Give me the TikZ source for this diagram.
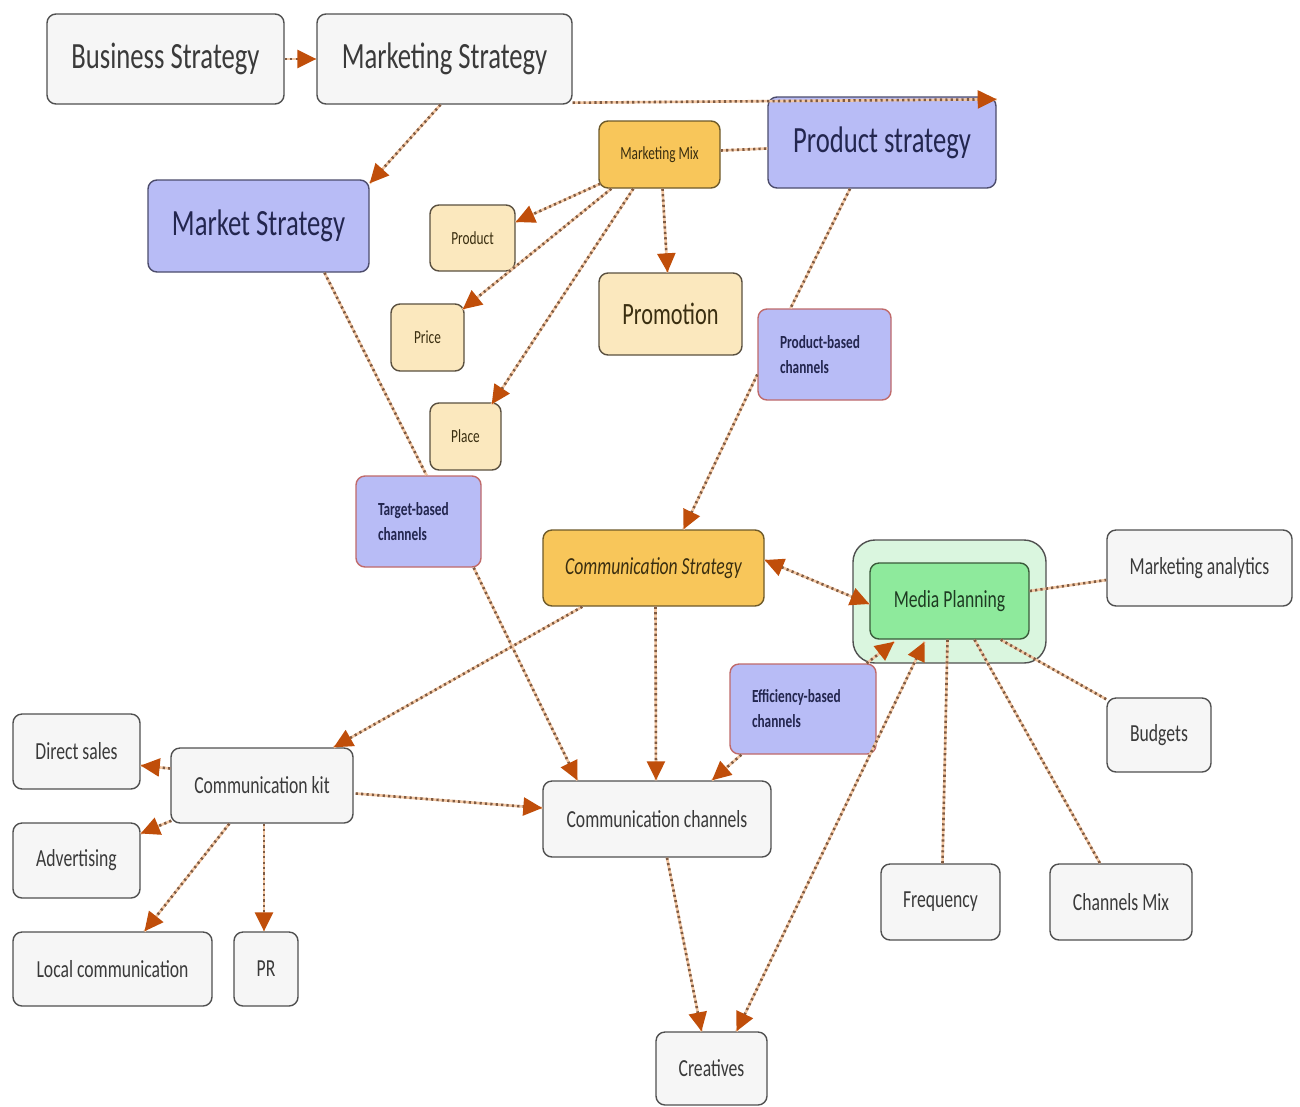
\documentclass[tikz,border=0pt]{standalone}
\usepackage{fontspec}
\setmainfont[FakeStretch=0.72]{Carlito}
\usetikzlibrary{arrows.meta,calc}

\definecolor{grayfill}{HTML}{F6F6F6}
\definecolor{grayline}{HTML}{505050}
\definecolor{graytext}{HTML}{3A3A3A}
\definecolor{lavfill}{HTML}{B8BCF6}
\definecolor{lavline}{HTML}{4C4C6C}
\definecolor{lavtext}{HTML}{23264F}
\definecolor{chanline}{HTML}{C06A6A}
\definecolor{orfill}{HTML}{F8C65A}
\definecolor{orline}{HTML}{6E5A2A}
\definecolor{ortext}{HTML}{3A2E10}
\definecolor{tanfill}{HTML}{FBE8BE}
\definecolor{tanline}{HTML}{5A5040}
\definecolor{grnfill}{HTML}{8EEA9C}
\definecolor{grnline}{HTML}{3A5A3A}
\definecolor{grntext}{HTML}{1E3A22}
\definecolor{grnouter}{HTML}{DAF6DF}
\definecolor{linkc}{HTML}{7E5A42}
\definecolor{haloc}{HTML}{F4C8A4}
\definecolor{tipc}{HTML}{C04E0A}

\newcommand{\px}[1]{\fontsize{#1}{#1}\selectfont}

\tikzset{
  box/.style={draw=grayline, line width=1.4pt, rounded corners=9pt, fill=grayfill,
    text=graytext, inner sep=0pt, align=center, font=\px{24.5}},
  lav/.style={box, fill=lavfill, draw=lavline, text=lavtext, font=\px{37}},
  chan/.style={box, fill=lavfill, draw=chanline, text=lavtext, align=left,
    font=\bfseries\fontsize{18.5}{25}\selectfont},
  orbox/.style={box, fill=orfill, draw=orline, text=ortext},
  tan/.style={box, fill=tanfill, draw=tanline, text=ortext, font=\px{18.5}},
  grn/.style={box, fill=grnfill, draw=grnline, text=grntext},
  sz/.style 2 args={minimum width=#1pt, minimum height=#2pt},
  link/.style={draw=linkc, line width=2.6pt, dash pattern=on 2.2pt off 3.2pt,
    preaction={draw=haloc, line width=2.6pt, solid, -}},
  tip/.style={link, -{Triangle[length=19pt,width=18pt,color=tipc]}},
  tips/.style={link, {Triangle[length=19pt,width=18pt,color=tipc]}-{Triangle[length=19pt,width=18pt,color=tipc]}}
}

\begin{document}
\begin{tikzpicture}[x=1pt,y=-1pt]
\useasboundingbox[fill=white] (0,0) rectangle (1300,1106);

% strategy layer
\node[box, sz={237}{90}, font=\px{37}] (bs) at (165.5,59) {Business Strategy};
\node[box, sz={255}{90}, font=\px{37}] (mks) at (444.5,59) {Marketing Strategy};
\node[lav, sz={221}{92}] (mkt) at (258.5,226) {Market Strategy};
\node[lav, sz={228}{91}] (ps) at (882,142.5) {Product strategy};

% marketing mix
\node[orbox, sz={121}{67}, font=\px{18.5}] (mm) at (659.5,154.5) {Marketing Mix};
\node[tan, sz={85}{66}] (prod) at (472.5,238) {Product};
\node[tan, sz={73}{67}] (price) at (427.5,337.5) {Price};
\node[tan, sz={71}{67}] (place) at (465.5,436.5) {Place};
\node[tan, sz={143}{82}, font=\px{31}] (prom) at (670.5,314) {Promotion};

% channel groups
\node[chan, sz={133}{91}, text width=89pt] (pbc) at (824.5,354.5) {Product-based\\channels};
\node[chan, sz={125}{91}, text width=81pt] (tbc) at (418.5,521.5) {Target-based\\channels};
\node[chan, sz={146}{90}, text width=102pt] (ebc) at (803,709) {Efficiency-based\\channels};

% communication
\node[orbox, sz={221}{76}, font=\itshape\px{24.5}] (cs) at (653.5,568) {Communication Strategy};
\node[box, sz={193}{123}, fill=grnouter, rounded corners=22pt] (mpo) at (949.5,601.5) {};
\node[grn, sz={159}{76}] (mp) at (949.5,601) {Media Planning};
\node[box, sz={185}{76}] (ma) at (1199.5,568) {Marketing analytics};
\node[box, sz={104}{74}] (bud) at (1159,735) {Budgets};
\node[box, sz={127}{75}] (ds) at (76.5,751.5) {Direct sales};
\node[box, sz={182}{75}] (ck) at (262,785.5) {Communication kit};
\node[box, sz={127}{75}] (adv) at (76.5,860.5) {Advertising};
\node[box, sz={199}{74}] (lc) at (112.5,969) {Local communication};
\node[box, sz={64}{74}] (pr) at (266,969) {PR};
\node[box, sz={228}{76}] (cc) at (657,819) {Communication channels};
\node[box, sz={119}{76}] (freq) at (940.5,902) {Frequency};
\node[box, sz={142}{76}] (cmx) at (1121,902) {Channels Mix};
\node[box, sz={111}{73}] (cr) at (711.5,1068.5) {Creatives};

% connectors
\draw[tip] (bs.east) -- (mks.west);
\draw[tip] ($(mks.south)+(-4,0)$) -- ($(mkt.north east)+(0,4)$);
\draw[tip] ($(mks.south east)+(0,-2)$) -- ($(ps.north east)+(0,3)$);
\draw[link] ($(mm.east)+(0,-4)$) -- ($(ps.west)+(0,6)$);
\draw[tip] ($(mm.south west)+(2,-5)$) -- ($(prod.east)+(0,-16)$);
\draw[tip] ($(mm.south west)+(13,0)$) -- ($(price.north east)+(-2,6)$);
\draw[tip] ($(mm.south west)+(35,0)$) -- ($(place.north east)+(-10,2)$);
\draw[tip] ($(mm.south)+(3,0)$) -- ($(prom.north)+(-3,0)$);
\draw[link] ($(ps.south)+(-32,0)$) -- ($(pbc.north)+(-34,0)$);
\draw[tip] ($(pbc.west)+(0,20)$) -- ($(cs.north)+(30,0)$);
\draw[link] ($(mkt.south)+(66,0)$) -- ($(tbc.north)+(8,0)$);
\draw[tip] ($(tbc.south east)+(-8,0)$) -- ($(cc.north west)+(35,0)$);
\draw[tips] ($(cs.east)+(0,-8)$) -- ($(mp.west)+(0,3)$);
\draw[link] ($(mp.east)+(0,-10)$) -- ($(ma.west)+(0,12)$);
\draw[link] ($(mp.south east)+(-29,0)$) -- ($(bud.north west)+(0,2)$);
\draw[link] ($(mp.south)+(25,0)$) -- ($(cmx.north)+(-21,0)$);
\draw[link] ($(mp.south)+(-2,0)$) -- ($(freq.north)+(2,0)$);
\draw[tip] ($(ebc.north east)+(-10,0)$) -- ($(mp.south west)+(25,2)$);
\draw[tip] ($(ebc.south west)+(12,0)$) -- ($(cc.north)+(55,0)$);
\draw[tip] ($(cs.south)+(2,0)$) -- ($(cc.north)+(-1,0)$);
\draw[tip] ($(cs.south west)+(40,0)$) -- ($(ck.north east)+(-20,0)$);
\draw[tip] ($(ck.east)+(2,8)$) -- ($(cc.west)+(0,-11)$);
\draw[tip] ($(ck.west)+(0,-17)$) -- ($(ds.east)+(0,14)$);
\draw[tip] ($(ck.south west)+(1,-3)$) -- ($(adv.east)+(0,-27)$);
\draw[tip] ($(ck.south west)+(59,0)$) -- ($(lc.north)+(32,0)$);
\draw[tip] ($(ck.south)+(2,0)$) -- ($(pr.north)+(-2,0)$);
\draw[tip] ($(cc.south)+(10,0)$) -- ($(cr.north)+(-10,0)$);
\draw[tips] ($(cr.north)+(25,0)$) -- ($(mp.south)+(-25,2)$);
\end{tikzpicture}
\end{document}
